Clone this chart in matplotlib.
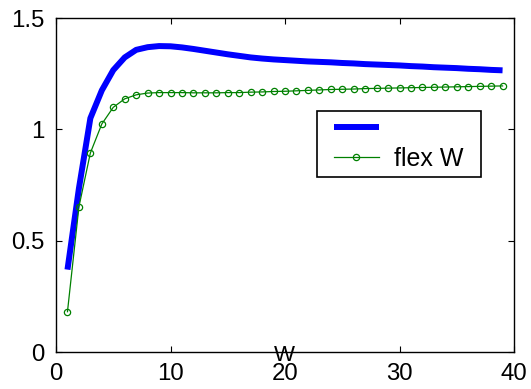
import matplotlib
matplotlib.use("Agg")
import matplotlib.pyplot as plt
from matplotlib.lines import Line2D
from matplotlib.legend_handler import HandlerLine2D

plt.rcParams['font.family'] = ['Liberation Sans', 'DejaVu Sans']

w = list(range(1, 40))

stiff = [0.37, 0.735, 1.05, 1.175, 1.266, 1.323, 1.357, 1.369, 1.374, 1.373,
         1.368, 1.361, 1.353, 1.345, 1.337, 1.330, 1.323, 1.318, 1.314, 1.311,
         1.308, 1.305, 1.303, 1.301, 1.298, 1.296, 1.293, 1.291, 1.289, 1.287,
         1.284, 1.282, 1.279, 1.277, 1.275, 1.272, 1.270, 1.267, 1.265]

flex = [0.181, 0.652, 0.894, 1.024, 1.099, 1.137, 1.155, 1.163, 1.165, 1.165,
        1.165, 1.164, 1.164, 1.164, 1.165, 1.165, 1.167, 1.168, 1.170, 1.171,
        1.173, 1.175, 1.177, 1.179, 1.180, 1.181, 1.183, 1.184, 1.185, 1.186,
        1.187, 1.188, 1.189, 1.190, 1.191, 1.192, 1.193, 1.194, 1.195]

fig = plt.figure(figsize=(5.31, 3.89), dpi=100)
ax = fig.add_axes([0.1055, 0.0951, 0.8625, 0.8586])

l1, = ax.plot(w, stiff, color='#0000ff', lw=4.3, solid_capstyle='butt')
l2, = ax.plot(w, flex, color='#008000', lw=0.9, marker='o', ms=4.5,
              mfc='none', mew=0.9)

ax.set_xlim(0, 40)
ax.set_ylim(0, 1.5)
ax.set_xticks([0, 10, 20, 30, 40])
ax.set_yticks([0, 0.5, 1, 1.5])
ax.set_yticklabels(['0', '0.5', '1', '1.5'])
ax.tick_params(direction='in', length=4, width=0.8, labelsize=17.3,
               top=True, right=True, pad=8)
for s in ax.spines.values():
    s.set_linewidth(1.0)

ax.set_xlabel('W', fontsize=16, va='center')
ax.xaxis.set_label_coords(0.498, -0.009)

# legend box roughly where MATLAB put it
leg = ax.legend([l1, l2], ['', 'flex W'], loc='upper left',
                bbox_to_anchor=(0.5699, 0.5, 0.358, 0.222), mode='expand',
                fontsize=18, fancybox=False, framealpha=1, edgecolor='black',
                handlelength=2.22, handletextpad=0.6, borderpad=0.25,
                labelspacing=0.24, borderaxespad=0,
                handler_map={Line2D: HandlerLine2D(xpad=0.42)})
leg.get_frame().set_linewidth(1.2)

fig.savefig('out.png', dpi=100)
